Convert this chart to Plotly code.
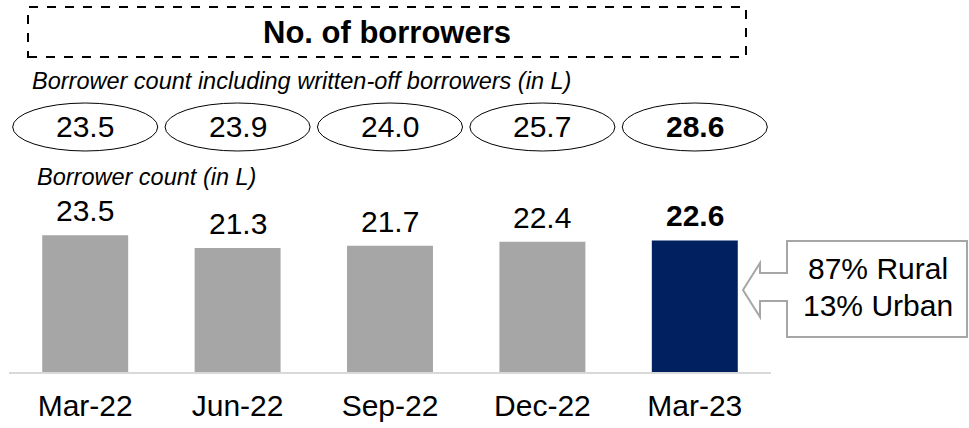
import plotly.graph_objects as go

# Quarter-end periods and borrower counts (in lakh)
periods = ["Mar-22", "Jun-22", "Sep-22", "Dec-22", "Mar-23"]
borrowers = [23.5, 21.3, 21.7, 22.4, 22.6]
borrowers_incl_written_off = [23.5, 23.9, 24.0, 25.7, 28.6]
split_lines = ["87% Rural", "13% Urban"]

W, H = 969, 428
ML, MR, MT, MB = 9, 198, 0, 56
PW, PH = W - ML - MR, H - MT - MB

FONT = "Arial, Liberation Sans, sans-serif"
GREY = "#a6a6a6"
NAVY = "#002060"


def px(x):
    """Horizontal pixel -> paper coordinate."""
    return (x - ML) / PW


def py(y):
    """Vertical pixel (from top) -> paper coordinate."""
    return (H - MB - y) / PH


last = len(periods) - 1
colors = [NAVY if i == last else GREY for i in range(len(periods))]

fig = go.Figure(
    go.Bar(
        x=periods,
        y=borrowers,
        marker=dict(color=colors, line=dict(width=0)),
        hoverinfo="skip",
    )
)

annotations = []
shapes = []

# value labels above the bars
for i, v in enumerate(borrowers):
    txt = f"{v:.1f}"
    annotations.append(dict(
        x=i, y=v, xref="x", yref="y", xanchor="center", yanchor="bottom",
        yshift=6,
        text=f"<b>{txt}</b>" if i == last else txt,
        showarrow=False, font=dict(size=30, color="black", family=FONT),
    ))

# ellipses holding the count including written-off borrowers
for i, v in enumerate(borrowers_incl_written_off):
    shapes.append(dict(
        type="circle", xref="x", yref="paper",
        x0=i - 0.476, x1=i + 0.476, y0=py(151), y1=py(103),
        line=dict(color="black", width=1), fillcolor="white", layer="below",
    ))
    txt = f"{v:.1f}"
    annotations.append(dict(
        x=i, y=py(126), xref="x", yref="paper", xanchor="center",
        yanchor="middle",
        text=f"<b>{txt}</b>" if i == last else txt,
        showarrow=False, font=dict(size=30, color="black", family=FONT),
    ))

# dashed title frame
shapes.append(dict(
    type="rect", xref="paper", yref="paper",
    x0=px(28), x1=px(746), y0=py(57), y1=py(7),
    line=dict(color="black", width=2, dash="dash"),
))
annotations.append(dict(
    x=px(387), y=py(32), xref="paper", yref="paper", xanchor="center",
    yanchor="middle",
    text="<b>No. of borrowers</b>", showarrow=False,
    font=dict(size=31, color="black", family=FONT),
))

# italic section captions
annotations.append(dict(
    x=px(30), y=py(81), xref="paper", yref="paper",
    xanchor="left", yanchor="middle",
    text="<i>Borrower count including written-off borrowers (in L)</i>",
    showarrow=False, font=dict(size=23.5, color="black", family=FONT),
))
annotations.append(dict(
    x=px(35), y=py(177), xref="paper", yref="paper",
    xanchor="left", yanchor="middle",
    text="<i>Borrower count (in L)</i>",
    showarrow=False, font=dict(size=23.5, color="black", family=FONT),
))

# left-pointing callout box with rural / urban split
pts = [(787, 241), (967, 241), (967, 337), (787, 337), (787, 301), (760, 301),
       (760, 317), (743, 290), (760, 263), (760, 273), (787, 273)]
path = "M " + " L ".join(f"{px(a):.5f},{py(b):.5f}" for a, b in pts) + " Z"
shapes.append(dict(
    type="path", xref="paper", yref="paper", path=path,
    line=dict(color=GREY, width=2), fillcolor="white",
))
for line_txt, yy in zip(split_lines, [268, 305]):
    annotations.append(dict(
        x=px(878), y=py(yy), xref="paper", yref="paper",
        xanchor="center", yanchor="middle",
        text=line_txt, showarrow=False,
        font=dict(size=30, color="black", family=FONT),
    ))

fig.update_layout(
    width=W, height=H,
    margin=dict(l=ML, r=MR, t=MT, b=MB, pad=0),
    paper_bgcolor="white", plot_bgcolor="white",
    bargap=0.436,
    showlegend=False,
    shapes=shapes,
    annotations=annotations,
    font=dict(family=FONT, color="black"),
    xaxis=dict(
        type="category", range=[-0.5, 4.5],
        showline=True, linecolor="#d9d9d9", linewidth=2,
        showgrid=False, zeroline=False,
        ticks="outside", ticklen=6, tickcolor="rgba(0,0,0,0)",
        tickfont=dict(size=30, color="black", family=FONT),
        fixedrange=True,
    ),
    yaxis=dict(
        range=[0, PH / 5.82], visible=False, showgrid=False,
        zeroline=False, fixedrange=True,
    ),
)

fig.write_html("out.html", config={"displayModeBar": False})
